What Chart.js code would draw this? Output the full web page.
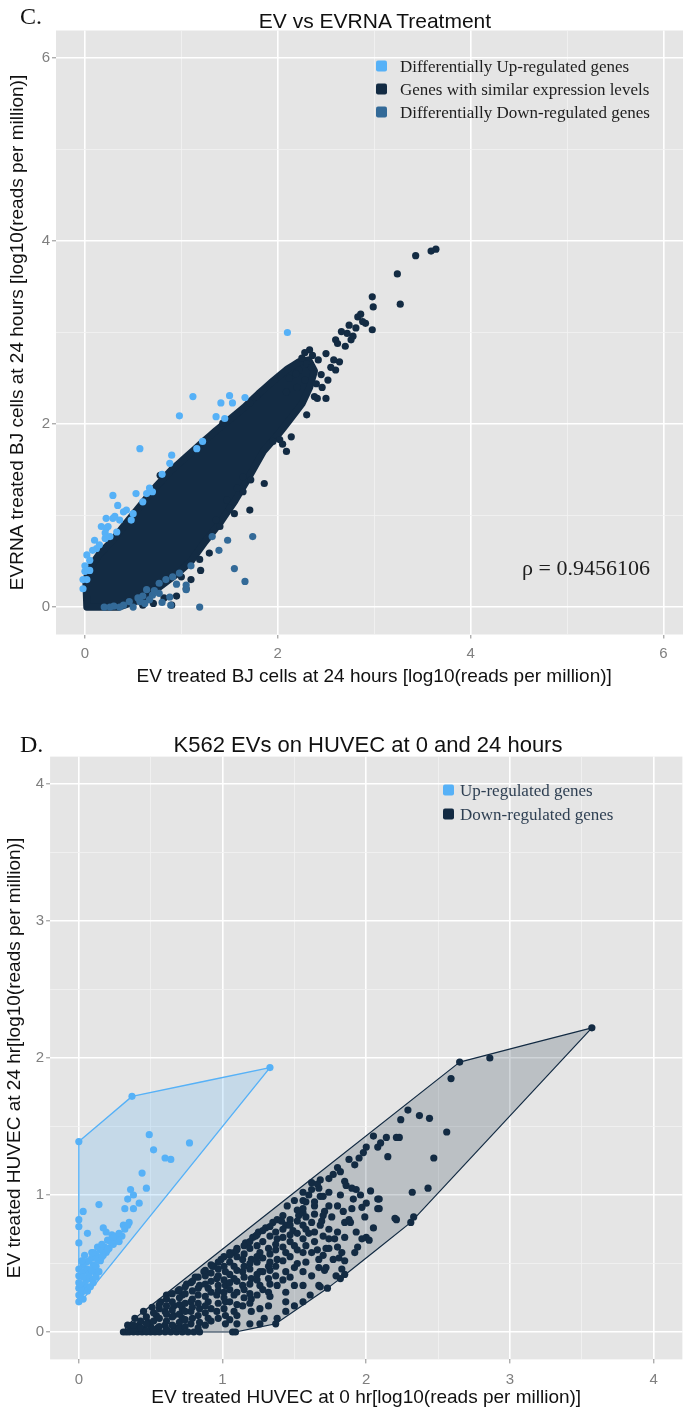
<!DOCTYPE html>
<html>
<head>
<meta charset="utf-8">
<script src="https://cdn.jsdelivr.net/npm/chart.js@4.4.1/dist/chart.umd.min.js"></script>
<style>
  html, body { margin: 0; padding: 0; background: #fff; overflow: hidden; }
  #page { position: relative; width: 683px; height: 1409px; overflow: hidden; }
  #page canvas { position: absolute; left: 0; }
  .txt { position: absolute; white-space: nowrap; line-height: 1; transform: translateY(-50%); }
  .tag { font-family: "Liberation Serif", serif; font-size: 24px; color: #111; }
  .rho { font-family: "Liberation Serif", serif; font-size: 22px; color: #1e1e1e; }
  .head { font-family: "Liberation Sans", Arial, sans-serif; font-size: 21px; color: #111; transform: translate(-50%, -50%); }
  .leg { font-family: "Liberation Serif", serif; font-size: 17px; }
  .key { position: absolute; width: 11px; height: 11px; border-radius: 2px; transform: translateY(-50%); }
</style>
</head>
<body>
<div id="page">
  <canvas id="chartC" width="696" height="690" style="top:0;width:696px;height:690px"></canvas>
  <canvas id="chartD" width="686" height="709" style="top:700px;width:686px;height:709px"></canvas>
</div>
<script>
// ---- panel C: EV vs EVRNA treated BJ cells ----
const cTicks = [0, 1, 2, 3, 4, 5, 6];
const cLabelled = [0, 2, 4, 6];
const cLegend = ['Differentially Up-regulated genes', 'Genes with similar expression levels', 'Differentially Down-regulated genes'];
const cRho = 'ρ = 0.9456106';

// outline of the solid band of similar genes
const cSimilarCore = [[0.02,0.00],[0.35,0.00],[0.55,0.07],[0.75,0.20],[0.95,0.36],[1.10,0.50],[1.25,0.72],[1.40,0.92],
  [1.55,1.15],[1.70,1.42],[1.85,1.70],[2.00,1.88],[2.12,2.04],[2.25,2.22],[2.33,2.40],[2.38,2.58],[2.32,2.70],[2.22,2.68],
  [2.10,2.60],[1.95,2.47],[1.80,2.33],[1.65,2.18],[1.50,2.05],[1.36,1.93],[1.22,1.80],[1.05,1.64],[0.90,1.50],[0.74,1.32],
  [0.57,1.10],[0.43,0.92],[0.28,0.72],[0.15,0.58],[0.06,0.44],[0.01,0.30],[0.02,0.00]];

const cSimilar = [[3.64,3.91],[3.59,3.89],[3.43,3.84],[3.24,3.64],[3.27,3.31],[2.98,3.39],[2.99,3.28],[2.98,3.03],[2.83,3.17],
  [2.86,3.20],[2.74,3.08],[2.72,2.99],[2.81,3.05],[2.66,3.01],[2.60,2.92],[2.62,2.88],[2.76,2.92],[2.50,2.77],[2.64,2.68],
  [2.60,2.59],[2.45,2.54],[2.40,2.44],[2.50,2.28],[2.41,2.28],[2.33,2.81],[2.36,2.75],[2.42,2.70],[2.22,2.59],[2.19,2.55],
  [2.12,2.50],[2.09,2.35],[2.14,1.86],[2.09,1.70],[2.02,1.83],[1.95,1.81],[1.86,1.35],[1.72,1.39],[1.64,1.42],[1.64,1.26],
  [1.71,1.06],[1.55,1.02],[1.47,1.17],[1.36,0.95],[1.29,0.59],[1.00,0.33],[1.05,0.20],[0.90,0.02],[0.71,0.04],[0.78,1.44],
  [1.43,2.01],[1.71,2.23],[1.78,2.30],[2.55,2.62],[2.28,2.48],[2.20,2.40],[1.58,1.30],[1.50,1.08],[1.40,0.88],[1.20,0.40],
  [1.10,0.30],[1.19,0.52],[0.95,0.12],[0.82,0.10],[0.60,0.02],[2.05,1.78],[2.30,2.10],[2.38,2.30],[2.46,2.40],[2.52,2.48],
  [2.58,2.70],[2.70,2.85],[2.78,2.96],[2.91,3.10],[2.88,3.12],[2.25,2.72],[2.30,2.66],[2.35,2.62],[2.28,2.78]];

const cUp = [[2.10,3.00],[1.12,2.30],[1.50,2.31],[1.53,2.23],[1.41,2.23],[1.66,2.29],[1.36,2.08],[1.45,2.06],[0.98,2.09],
  [0.57,1.73],[0.90,1.66],[0.88,1.57],[1.16,1.73],[1.22,1.81],[0.29,1.22],[0.34,1.11],[0.53,1.24],[0.67,1.30],[0.64,1.24],
  [0.70,1.26],[0.22,0.97],[0.29,0.97],[0.31,0.99],[0.40,1.04],[0.43,1.06],[0.10,0.73],[0.21,0.75],[0.22,0.86],[0.24,0.88],
  [0.21,0.81],[0.12,0.64],[0.00,0.39],[0.02,0.30],[0.05,0.40],[0.17,0.88],[0.02,0.57],[0.05,0.51],[-0.02,0.30],[-0.02,0.20],
  [0.15,0.68],[0.26,0.77],[0.33,0.82],[0.48,0.95],[0.00,0.45],[0.08,0.62],[0.36,0.95],[0.50,1.02],[0.60,1.15],[0.80,1.45]];

const cDown = [[1.74,0.77],[1.66,0.28],[1.55,0.42],[1.19,0.00],[1.39,0.62],[1.48,0.73],[1.32,0.77],[1.05,0.24],[1.05,0.19],
  [0.89,0.02],[0.88,0.11],[0.77,0.15],[0.67,0.08],[0.57,0.06],[0.50,0.00],[0.46,0.06],[0.36,0.00],[0.26,0.00],[0.98,0.37],
  [0.91,0.33],[0.84,0.30],[0.77,0.26],[0.64,0.19],[0.70,0.13],[0.40,0.02],[0.55,0.10],[0.62,0.04],[0.30,0.01],[0.20,0.00],
  [0.80,0.05],[0.72,0.18],[0.95,0.25],[1.10,0.45],[0.60,0.12]];

// ---- panel D: K562 EVs on HUVEC ----
const dTicks = [0, 0.5, 1, 1.5, 2, 2.5, 3, 3.5, 4];
const dLabelled = [0, 1, 2, 3, 4];
const dLegend = ['Up-regulated genes', 'Down-regulated genes'];

const dUp = [[0,1.39],[0.37,1.72],[1.33,1.93],[0.49,1.44],[0.77,1.38],[0.52,1.33],[0.60,1.27],[0.64,1.26],[0.44,1.16],
  [0.47,1.05],[0.36,1.04],[0.38,1.00],[0.34,0.97],[0.42,0.94],[0.32,0.90],[0.38,0.90],[0.35,0.80],[0.31,0.78],[0.14,0.93],
  [0.03,0.88],[0,0.82],[0,0.77],[0.06,0.72],[0,0.65],[0.17,0.76],[0.19,0.73],[0.23,0.71],[0.26,0.70],[0.30,0.70],[0.24,0.64],
  [0.21,0.61],[0.18,0.62],[0.15,0.60],[0.12,0.57],[0.09,0.58],[0.09,0.54],[0.05,0.51],[0.03,0.49],[0,0.46],[0,0.41],[0,0.36],
  [0,0.32],[0,0.27],[0,0.22],[0.03,0.44],[0.06,0.46],[0.10,0.49],[0.15,0.52],[0.17,0.56],[0.02,0.29],[0.04,0.34],[0.08,0.39],
  [0.11,0.44],[0.03,0.24],[0.01,0.26],[0.19,0.58],
  [0.02,0.31],[0.06,0.33],[0.05,0.38],[0.07,0.42],[0.09,0.45],[0.12,0.48],[0.13,0.53],[0.16,0.55],[0.20,0.60],[0.22,0.66],
  [0.25,0.67],[0.28,0.66],[0.03,0.40],[0.01,0.35],[0.06,0.30],[0.08,0.33],[0.10,0.36],[0.12,0.40],[0.14,0.44],[0.02,0.52],
  [0.04,0.56],[0.07,0.52],[0.10,0.58],[0.13,0.62],[0.16,0.64],[0.20,0.67],[0.24,0.69],[0.28,0.72],[0.32,0.75],[0.34,0.78]];

const dDown = [[0.31,0],[0.33,0],[0.35,0],[0.38,0],[0.41,0],[0.44,0],[0.47,0],[0.50,0],[0.53,0],[0.56,0],[0.60,0],[0.64,0],
  [0.68,0],[0.72,0],[0.76,0],[0.80,0],[0.84,0],[1.07,0],[1.09,0],
  [0.36,0.02],[0.40,0.03],[0.45,0.02],[0.50,0.04],[0.55,0.03],[0.60,0.05],[0.66,0.04],[0.70,0.03],[0.78,0.06],[0.84,0.07],
  [0.90,0.10],[0.96,0.15],[1.02,0.12],[1.08,0.15],[1.02,0.06],[1.10,0.06],[1.19,0.06],[1.26,0.06],[1.29,0.10],[1.37,0.06],
  [1.38,0.10],[1.20,0.15],[1.26,0.17],
  [0.34,0.05],[0.39,0.10],[0.42,0.05],[0.45,0.15],[0.48,0.07],[0.51,0.18],[0.54,0.12],[0.57,0.22],[0.60,0.15],[0.61,0.27],
  [0.66,0.19],[0.66,0.12],[0.69,0.30],[0.72,0.27],[0.72,0.17],[0.72,0.10],[0.75,0.35],[0.78,0.22],[0.78,0.15],[0.78,0.36],
  [0.81,0.40],[0.84,0.34],[0.84,0.17],[0.87,0.44],[0.90,0.32],[0.90,0.22],[0.93,0.48],[0.96,0.39],[0.96,0.27],[0.99,0.53],
  [1.02,0.44],[1.02,0.34],[1.02,0.22],[1.05,0.58],[1.08,0.48],[1.08,0.39],[1.08,0.27],[1.08,0.58],[1.10,0.61],[1.14,0.53],
  [1.14,0.44],[1.14,0.34],[1.14,0.19],[1.16,0.65],[1.20,0.53],[1.20,0.39],[1.20,0.24],[1.21,0.69],[1.23,0.70],[1.25,0.73],
  [1.26,0.58],[1.26,0.44],[1.26,0.34],[1.30,0.76],[1.32,0.61],[1.32,0.48],[1.32,0.39],[1.32,0.29],[1.32,0.19],[1.35,0.80],
  [1.38,0.68],[1.38,0.53],[1.38,0.34],[1.38,0.82],[1.41,0.81],[1.44,0.78],[1.44,0.58],[1.44,0.44],[1.44,0.29],[1.44,0.22],
  [1.44,0.15],[1.47,0.82],[1.49,0.74],[1.50,0.63],[1.50,0.47],[1.50,0.34],[1.50,0.19],[1.53,0.85],[1.56,0.87],[1.56,0.78],
  [1.56,0.68],[1.56,0.58],[1.56,0.44],[1.56,0.34],[1.56,0.22],[1.61,0.27],[1.62,0.80],[1.62,0.58],[1.62,0.41],[1.67,0.53],
  [1.67,0.47],[1.67,0.34],[1.68,0.78],[1.69,0.81],[1.72,0.61],[1.72,0.47],[1.74,0.75],[1.74,0.68],[1.77,0.53],[1.80,0.62],
  [1.80,0.73],[1.82,0.39],[1.83,0.58],[1.85,0.80],[1.85,0.69],[1.85,0.52],[1.85,0.42],[1.89,0.80],[1.92,0.58],[1.93,0.73],
  [1.97,0.68],[2.00,0.69],[2.02,0.67],
  [0.94,0.48],[1.56,0.96],[1.56,1.02],[1.62,1.04],[1.62,1.09],[1.67,1.05],[1.68,0.99],[1.68,1.11],[1.74,1.02],[1.74,1.12],
  [1.82,1.17],[1.85,1.10],[1.86,1.07],[1.88,1.26],[1.93,1.04],[1.98,1.31],[2.03,1.03],[2.05,1.43],[2.08,0.97],[2.08,0.90],
  [2.08,1.35],[2.14,1.42],[2.15,1.28],[2.21,1.42],[2.23,1.42],[2.24,1.55],[2.29,1.62],[2.37,1.58],[2.44,1.56],[2.56,1.46],
  [2.47,1.27],[2.43,1.05],[2.32,1.02],[2.09,0.97],[2.09,0.90],[2.21,0.82],[2.33,0.84],[2.31,0.80],[2.59,1.85],[2.65,1.97],
  [2.86,2.00],[3.57,2.22],[1.97,0.91],[1.64,0.92],[1.71,0.88],[1.56,0.90],[1.74,0.92],[1.80,0.92],[1.91,0.97],[1.96,1.00],
  [2.00,0.94],[2.20,0.83],[1.58,0.95],[1.90,1.05],[1.84,0.88],[1.88,0.82],[1.94,0.62],[1.78,0.68],[1.74,0.61],[1.81,0.54],
  [1.71,0.45],[1.79,0.41],[1.83,0.46],[1.73,0.32],[1.68,0.33],
  // packed mass near the lower left of the down-regulated group
  [0.38,0.02],[0.38,0.05],[0.43,0.03],[0.43,0.08],[0.47,0.01],[0.47,0.06],[0.47,0.11],[0.52,0.02],[0.52,0.08],[0.52,0.14],
  [0.56,0.04],[0.56,0.10],[0.56,0.17],[0.56,0.20],[0.61,0.02],[0.61,0.08],[0.61,0.13],[0.61,0.19],[0.61,0.24],[0.65,0.05],
  [0.65,0.11],[0.65,0.16],[0.65,0.22],[0.65,0.28],[0.70,0.07],[0.70,0.13],[0.70,0.20],[0.70,0.25],[0.70,0.31],[0.74,0.04],
  [0.74,0.09],[0.74,0.15],[0.74,0.21],[0.74,0.28],[0.74,0.33],[0.79,0.10],[0.79,0.18],[0.79,0.24],[0.79,0.30],[0.79,0.37],
  [0.83,0.03],[0.83,0.12],[0.83,0.21],[0.83,0.27],[0.83,0.32],[0.83,0.40],[0.88,0.05],[0.88,0.14],[0.88,0.19],[0.88,0.26],
  [0.88,0.35],[0.88,0.41],[0.88,0.45],[0.92,0.08],[0.92,0.17],[0.92,0.29],[0.92,0.37],[0.92,0.43],[0.92,0.49],[0.97,0.10],
  [0.97,0.21],[0.97,0.30],[0.97,0.34],[0.97,0.41],[0.97,0.46],[0.97,0.51],[1.01,0.17],[1.01,0.25],[1.01,0.29],[1.01,0.38],
  [1.01,0.48],[1.01,0.55],[1.05,0.09],[1.05,0.22],[1.05,0.31],[1.05,0.36],[1.05,0.42],[1.05,0.51],[1.05,0.56],[1.10,0.12],
  [1.10,0.20],[1.10,0.29],[1.10,0.37],[1.10,0.45],[1.10,0.55],[1.10,0.60],[1.15,0.25],[1.15,0.31],[1.15,0.40],[1.15,0.48],
  [1.15,0.57],[1.15,0.63],[1.19,0.21],[1.19,0.28],[1.19,0.35],[1.19,0.46],[1.19,0.50],[1.19,0.61],[1.19,0.66],[1.24,0.27],
  [1.24,0.38],[1.24,0.42],[1.24,0.51],[1.24,0.55],[1.24,0.63],[1.24,0.71],[1.28,0.31],[1.28,0.44],[1.28,0.54],[1.28,0.66],
  [1.28,0.74],[1.33,0.26],[1.33,0.35],[1.33,0.45],[1.33,0.51],[1.33,0.57],[1.33,0.70],[1.33,0.77],[1.37,0.41],[1.37,0.48],
  [1.37,0.60],[1.37,0.64],[1.37,0.73],[1.42,0.38],[1.42,0.52],[1.42,0.62],[1.42,0.69],[1.42,0.75],[1.42,0.85],[1.47,0.40],
  [1.47,0.55],[1.47,0.66],[1.47,0.71],[1.47,0.78],[1.52,0.50],[1.52,0.60],[1.52,0.72],[1.52,0.81],[1.52,0.89],[1.58,0.51],
  [1.58,0.63],[1.58,0.75],[1.58,0.84],[1.64,0.66],[1.64,0.73],[1.64,0.86],[1.64,0.95],[1.70,0.56],[1.70,0.70],[1.70,0.85],
  [1.70,0.99],
  // upper edge, middle stretch
  [1.45,0.92],[1.50,0.96],[1.60,1.00],[1.66,1.08],[1.77,1.15],[1.80,1.20],[1.92,1.22],[1.95,1.27],[2.00,1.35],[2.10,1.38],
  [1.76,0.84],[1.82,1.00],[1.99,0.84],[2.05,0.76],[1.90,0.90],[1.60,0.72],[1.66,0.60]];

const UP = '#56B1F7', SIMILAR = '#132B43', DOWN = '#336A98';

Chart.defaults.font.family = '"Liberation Sans", Arial, sans-serif';

const xy = arr => arr.map(([x, y]) => ({ x, y }));

// convex hull (monotone chain), returned as a closed ring
function hull(arr) {
  const p = arr.slice().sort((a, b) => a[0] - b[0] || a[1] - b[1]);
  const cross = (o, a, b) => (a[0] - o[0]) * (b[1] - o[1]) - (a[1] - o[1]) * (b[0] - o[0]);
  const lower = [], upper = [];
  for (const q of p) {
    while (lower.length >= 2 && cross(lower[lower.length - 2], lower[lower.length - 1], q) <= 0) lower.pop();
    lower.push(q);
  }
  for (const q of p.reverse()) {
    while (upper.length >= 2 && cross(upper[upper.length - 2], upper[upper.length - 1], q) <= 0) upper.pop();
    upper.push(q);
  }
  lower.pop(); upper.pop();
  const ring = lower.concat(upper);
  ring.push(ring[0]);
  return ring;
}

const panelBg = {
  id: 'panelBg',
  beforeDraw(chart) {
    const { ctx, chartArea: a } = chart;
    ctx.save();
    ctx.fillStyle = '#e5e5e5';
    ctx.fillRect(a.left, a.top, a.right - a.left, a.bottom - a.top);
    ctx.restore();
  }
};

function axis(min, max, ticks, labelled, title, size, titlePad, tickPad) {
  const major = c => c.tick && labelled.includes(c.tick.value);
  return {
    type: 'linear', min, max,
    afterBuildTicks: s => { s.ticks = ticks.map(v => ({ value: v })); },
    afterFit: s => { if (s.isHorizontal()) s.height = size; else s.width = size; },
    border: { display: false },
    grid: {
      color: c => major(c) ? '#ffffff' : '#f2f2f2',
      lineWidth: c => major(c) ? 1.6 : 0.8,
      tickColor: c => major(c) ? '#8c8c8c' : 'rgba(0,0,0,0)',
      tickLength: 4, tickWidth: 1
    },
    ticks: {
      callback: v => labelled.includes(v) ? String(v) : '',
      color: '#7f7f7f', font: { size: 15 }, padding: tickPad, autoSkip: false, maxRotation: 0
    },
    title: { display: true, text: title, color: '#111', font: { size: 19 }, padding: titlePad }
  };
}

function points(arr, color) {
  return { type: 'scatter', data: xy(arr), backgroundColor: color, pointRadius: 3.6, pointBorderWidth: 0, pointHoverRadius: 3.6 };
}

function polygon(ring, line, fill, width) {
  return { type: 'line', data: xy(ring), showLine: true, fill: 'shape', borderColor: line, backgroundColor: fill,
    borderWidth: width, borderJoinStyle: 'round', borderCapStyle: 'round', pointRadius: 0, tension: 0.001 };
}

function baseOptions(padTop, x, y) {
  return {
    responsive: false, animation: false, devicePixelRatio: 1,
    layout: { padding: { top: padTop, left: 0, right: 0, bottom: 0 } },
    plugins: { legend: { display: false }, tooltip: { enabled: false } },
    scales: { x, y }
  };
}

new Chart(document.getElementById('chartC'), {
  type: 'scatter',
  data: {
    datasets: [
      points(cUp, UP),
      points(cDown, DOWN),
      points(cSimilar, SIMILAR),
      polygon(cSimilarCore, SIMILAR, SIMILAR, 7.2)
    ]
  },
  options: baseOptions(30.5,
    axis(-0.3, 6.3, cTicks, cLabelled, 'EV treated BJ cells at 24 hours [log10(reads per million)]', 55.5, { top: 0, bottom: 1.6 }, 6),
    axis(-0.3, 6.3, cTicks, cLabelled, 'EVRNA treated BJ cells at 24 hours [log10(reads per million)]', 56, { top: 6.6, bottom: 0 }, 2)),
  plugins: [panelBg]
});

new Chart(document.getElementById('chartD'), {
  type: 'scatter',
  data: {
    datasets: [
      points(dUp, UP),
      points(dDown, SIMILAR),
      polygon(hull(dUp), UP, 'rgba(86,177,247,0.22)', 1.4),
      polygon(hull(dDown), SIMILAR, 'rgba(19,43,67,0.2)', 1.2)
    ]
  },
  options: baseOptions(56.6,
    axis(-0.2, 4.2, dTicks, dLabelled, 'EV treated HUVEC at 0 hr[log10(reads per million)]', 49.6, { top: 0, bottom: 0 }, 7),
    axis(-0.2, 4.2, dTicks, dLabelled, 'EV treated HUVEC at 24 hr[log10(reads per million)]', 50.1, { top: 3.6, bottom: 0 }, 2)),
  plugins: [panelBg]
});

// headings, legends and the correlation note
const page = document.getElementById('page');
function text(str, cls, left, top, color) {
  const el = document.createElement('div');
  el.className = 'txt ' + cls;
  el.textContent = str;
  el.style.left = left + 'px';
  el.style.top = top + 'px';
  if (color) el.style.color = color;
  page.appendChild(el);
}
function legend(labels, colors, keyLeft, textLeft, rows, color) {
  labels.forEach((label, i) => {
    const k = document.createElement('div');
    k.className = 'key';
    k.style.left = keyLeft + 'px';
    k.style.top = rows[i] + 'px';
    k.style.background = colors[i];
    page.appendChild(k);
    text(label, 'leg', textLeft, rows[i], color);
  });
}

text('C.', 'tag', 20, 16);
text('EV vs EVRNA Treatment', 'head', 375, 20);
legend(cLegend, [UP, SIMILAR, DOWN], 376, 400, [66, 89, 112], '#1e1e1e');
text(cRho, 'rho', 522, 568);

text('D.', 'tag', 20, 744);
text('K562 EVs on HUVEC at 0 and 24 hours', 'head', 368, 745);
document.querySelectorAll('.head')[1].style.fontSize = '22px';
legend(dLegend, [UP, SIMILAR], 443, 460, [790, 814], '#2e3f52');
</script>
</body>
</html>
